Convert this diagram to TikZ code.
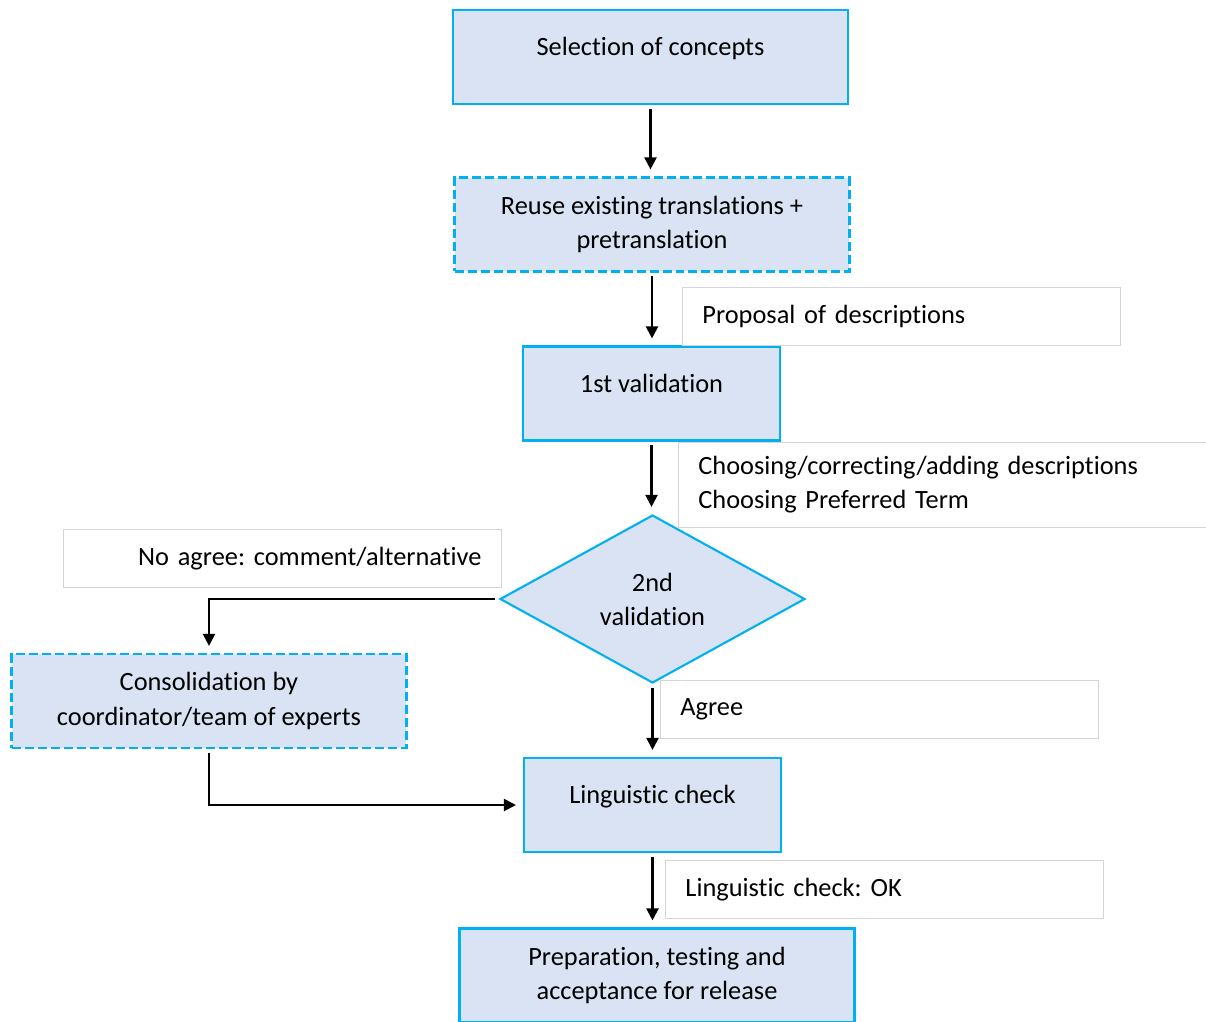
\documentclass[tikz,border=0pt]{standalone}
\usepackage{fontspec}
\setmainfont{Carlito}[Ligatures=NoCommon]
\usetikzlibrary{shapes.geometric,arrows.meta}
\definecolor{boxfill}{RGB}{218,227,243}
\definecolor{boxline}{RGB}{0,176,240}
\definecolor{noteline}{RGB}{212,212,212}
\frenchspacing

\begin{document}
\begin{tikzpicture}
[x=0.02cm, y=-0.02cm, font=\fontsize{15}{19.4}\selectfont, line width=1.2pt,
>={Triangle[length=2.4mm, width=2.4mm]},
proc/.style={rectangle, draw=boxline, fill=boxfill, align=center, inner sep=0pt, minimum width=7.9cm, minimum height=1.88cm},
procs/.style={proc, minimum width=5.14cm},
oneline/.style={text height=0.4cm, text depth=0.46cm},
dashproc/.style={proc, dash pattern=on 0.18cm off 0.08cm},
decision/.style={diamond, draw=boxline, fill=boxfill, align=center, inner sep=0pt, minimum width=6.1cm, minimum height=3.36cm},
note/.style={rectangle, draw=noteline, line width=0.5pt, anchor=north west, inner xsep=0.4cm, inner ysep=0pt, minimum width=8.76cm, minimum height=1.16cm, text width=7.96cm, align=left},
flow/.style={->, black, shorten <=2pt, shorten >=4pt}]

\clip (0,0) rectangle (1206,1021);

% main column
\node[proc, oneline] (sel) at (650.5,57) {Selection of concepts};
\node[dashproc] (reuse) at (652,224.5) {Reuse existing translations +\\pretranslation};
\node[procs, oneline] (val1) at (651.5,393.5) {1st validation};
\node[decision] (val2) at (652.5,599) {2nd\\validation};
\node[dashproc] (cons) at (209,701) {Consolidation by\\coordinator/team of experts};
\node[procs, oneline] (ling) at (652.5,805) {Linguistic check};
\node[proc] (prep) at (657,975.5) {Preparation, testing and\\acceptance for release};

% notes
\node[note] (prop) at (682,287) {Proposal of descriptions};
\node[note, minimum width=10.9cm, minimum height=1.7cm, text width=10.1cm] (choose) at (678,442) {Choosing/correcting/adding descriptions\\Choosing Preferred Term};
\node[note, align=right] (noagree) at (63,529) {No agree: comment/alternative};
\node[note] (agree) at (660,680) {Agree};
\node[note] (lingok) at (665,860) {Linguistic check: OK};

% connectors
\draw[flow] (sel.south) -- (sel.south |- reuse.north);
\draw[flow] (reuse.south) -- (reuse.south |- val1.north);
\draw[flow] (val1.south) -- (val1.south |- val2.north);
\draw[flow] (val2.west) -| (cons.north);
\draw[flow] (val2.south) -- (val2.south |- ling.north);
\draw[flow] (cons.south) |- (ling.west);
\draw[flow] (ling.south) -- (ling.south |- prep.north);
\end{tikzpicture}
\end{document}
